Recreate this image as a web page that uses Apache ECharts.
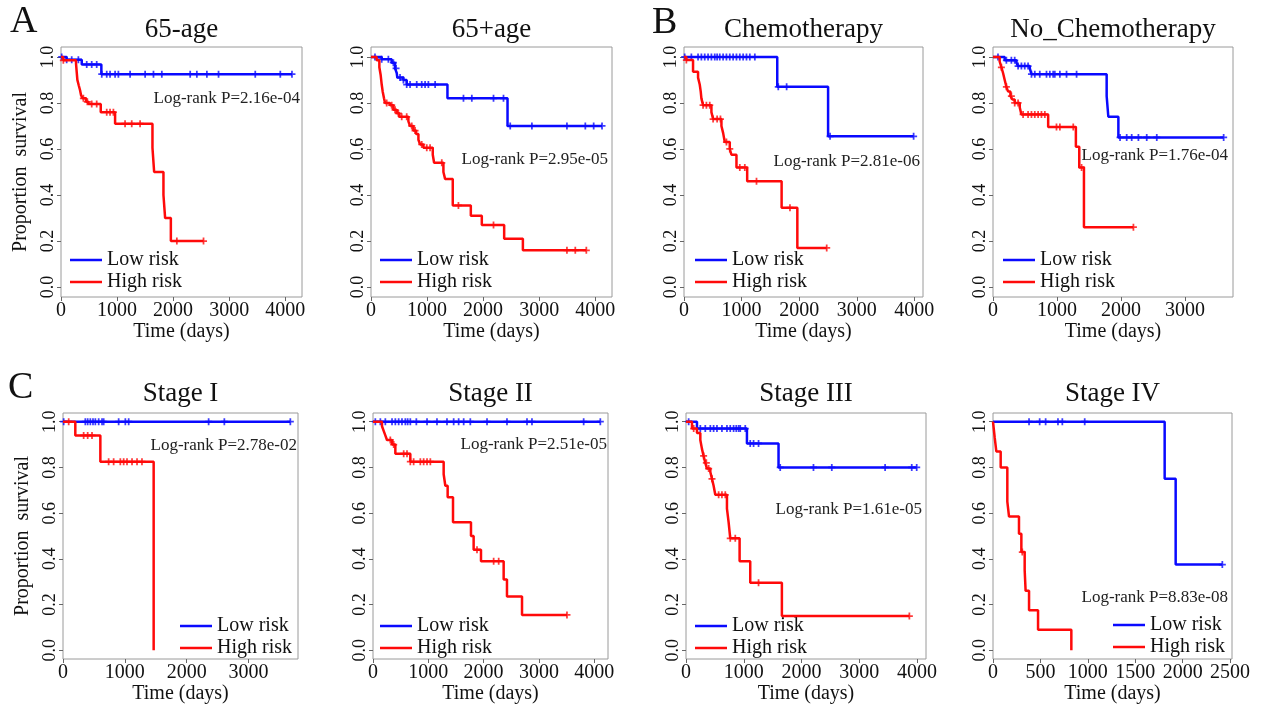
<!DOCTYPE html>
<html>
<head>
<meta charset="utf-8">
<title>KM curves</title>
<script src="https://cdn.jsdelivr.net/npm/echarts@6/dist/echarts.min.js"></script>
<style>
html, body { margin: 0; padding: 0; background: #fff; }
#main { width: 1264px; height: 712px; }
</style>
</head>
<body>
<div id="main"></div>
<script>
// tick labels
var yTicks = [0, 0.2, 0.4, 0.6, 0.8, 1.0];
var xTicks4000 = [0, 1000, 2000, 3000, 4000];
var xTicks3000 = [0, 1000, 2000, 3000];
var xTicks2500 = [0, 500, 1000, 1500, 2000, 2500];

var titles = ['65-age', '65+age', 'Chemotherapy', 'No_Chemotherapy', 'Stage I', 'Stage II', 'Stage III', 'Stage IV'];
var pValues = ['2.16e-04', '2.95e-05', '2.81e-06', '1.76e-04', '2.78e-02', '2.51e-05', '1.61e-05', '8.83e-08'];
var xMax = [4300, 4300, 4150, 3750, 3800, 4250, 4155, 2520];

// 65-age
var a1LowTime = [100, 370, 720];
var a1LowSurv = [0.988, 0.967, 0.925];
var a1LowCens = [12, 101, 191, 310, 459, 548, 637, 727, 816, 875, 965, 1024, 1233, 1501, 1650, 1799, 2305, 2424, 2603, 2811, 3466, 3913, 4121];
var a1HighTime = [40, 268, 280, 292, 316, 340, 357, 387, 447, 488, 709, 965, 1632, 1662, 1828, 1858, 1960];
var a1HighSurv = [0.985, 0.971, 0.935, 0.90, 0.877, 0.855, 0.834, 0.82, 0.805, 0.795, 0.76, 0.71, 0.605, 0.50, 0.40, 0.30, 0.20];
var a1HighCens = [42, 399, 470, 548, 637, 816, 875, 935, 1143, 1262, 1411, 2067, 2543];

// 65+age
var a2LowTime = [191, 369, 429, 459, 470, 578, 637, 1364, 2436];
var a2LowSurv = [0.99, 0.975, 0.95, 0.93, 0.91, 0.90, 0.88, 0.82, 0.70];
var a2LowCens = [71, 191, 310, 399, 447, 518, 578, 637, 697, 816, 905, 965, 1024, 1144, 1650, 1799, 2186, 2364, 2484, 2871, 3496, 3824, 3973, 4122];
var a2HighTime = [101, 149, 173, 191, 208, 232, 250, 339, 399, 459, 506, 667, 697, 756, 804, 846, 876, 935, 1102, 1126, 1292, 1322, 1459, 1781, 1977, 2376, 2710];
var a2HighSurv = [0.985, 0.955, 0.92, 0.88, 0.85, 0.82, 0.80, 0.79, 0.77, 0.755, 0.74, 0.72, 0.70, 0.68, 0.665, 0.64, 0.62, 0.605, 0.575, 0.54, 0.50, 0.47, 0.355, 0.31, 0.27, 0.21, 0.16];
var a2HighCens = [280, 369, 429, 488, 548, 637, 727, 786, 905, 995, 1054, 1263, 1560, 2186, 3496, 3645, 3842];

// Chemotherapy
var b1LowTime = [1619, 2502];
var b1LowSurv = [0.87, 0.655];
var b1LowCens = [12, 128, 244, 302, 360, 418, 476, 534, 575, 621, 679, 737, 795, 853, 911, 969, 1027, 1085, 1143, 1230, 1637, 1782, 2536, 3987];
var b1HighTime = [40, 157, 244, 273, 290, 302, 331, 476, 505, 650, 679, 708, 795, 824, 911, 1097, 1695, 1968];
var b1HighSurv = [0.986, 0.935, 0.91, 0.88, 0.85, 0.82, 0.79, 0.76, 0.73, 0.70, 0.67, 0.63, 0.60, 0.575, 0.52, 0.46, 0.345, 0.17];
var b1HighCens = [41, 331, 389, 447, 505, 575, 633, 737, 795, 969, 1056, 1259, 1840, 2478];

// No_Chemotherapy
var b2LowTime = [183, 366, 392, 575, 601, 1776, 1802, 1959];
var b2LowSurv = [0.985, 0.975, 0.96, 0.95, 0.925, 0.83, 0.74, 0.65];
var b2LowCens = [78, 209, 287, 339, 392, 444, 496, 548, 601, 653, 731, 836, 888, 940, 966, 1045, 1149, 1306, 1985, 2089, 2167, 2272, 2402, 2559, 3604];
var b2HighTime = [104, 131, 157, 183, 209, 235, 272, 303, 339, 418, 444, 862, 1295, 1348, 1421];
var b2HighSurv = [0.98, 0.955, 0.93, 0.90, 0.87, 0.85, 0.83, 0.815, 0.80, 0.78, 0.75, 0.695, 0.61, 0.52, 0.26];
var b2HighCens = [131, 209, 287, 339, 392, 470, 548, 601, 653, 705, 757, 810, 992, 1045, 1254, 1384, 2194];

// Stage I
var c1LowTime = [];
var c1LowSurv = [];
var c1LowCens = [11, 361, 399, 442, 485, 523, 577, 631, 658, 900, 1008, 1062, 2355, 2609, 3676];
var c1HighTime = [199, 604, 1466];
var c1HighSurv = [0.94, 0.825, 0];
var c1HighCens = [92, 334, 399, 469, 738, 819, 927, 981, 1035, 1116, 1197, 1277];

// Stage II
var c2LowTime = [];
var c2LowSurv = [];
var c2LowCens = [42, 133, 223, 344, 404, 464, 524, 585, 627, 675, 784, 977, 1157, 1338, 1459, 1549, 1640, 1760, 2062, 2423, 2785, 2875, 3810, 4111];
var c2HighTime = [163, 193, 223, 253, 344, 404, 675, 1278, 1308, 1350, 1447, 1772, 1820, 1953, 2363, 2423, 2695];
var c2HighSurv = [0.98, 0.96, 0.94, 0.92, 0.90, 0.86, 0.825, 0.77, 0.72, 0.67, 0.56, 0.50, 0.44, 0.39, 0.31, 0.235, 0.155];
var c2HighCens = [313, 374, 555, 615, 675, 735, 856, 916, 977, 1037, 1881, 2182, 2273, 3508];

// Stage III
var c3LowTime = [190, 1055, 1602];
var c3LowSurv = [0.97, 0.905, 0.80];
var c3LowCens = [46, 248, 334, 421, 478, 536, 622, 709, 766, 824, 870, 911, 939, 1026, 1112, 1170, 1256, 1631, 2207, 2524, 3447, 3908, 3994];
var c3HighTime = [104, 190, 248, 277, 305, 334, 363, 421, 450, 478, 507, 709, 738, 766, 928, 1112, 1660];
var c3HighSurv = [0.97, 0.95, 0.92, 0.88, 0.85, 0.82, 0.795, 0.78, 0.75, 0.72, 0.68, 0.62, 0.56, 0.49, 0.39, 0.295, 0.15];
var c3HighCens = [133, 305, 352, 392, 450, 565, 622, 680, 766, 853, 1256, 3867];

// Stage IV
var c4LowTime = [1810, 1926];
var c4LowSurv = [0.75, 0.375];
var c4LowCens = [380, 492, 555, 685, 731, 967, 2418];
var c4HighTime = [18, 35, 81, 151, 169, 274, 299, 334, 344, 380, 475, 826];
var c4HighSurv = [0.93, 0.87, 0.80, 0.65, 0.585, 0.51, 0.43, 0.35, 0.26, 0.175, 0.09, 0];
var c4HighCens = [309];

var lowColor = '#0a0aff';
var highColor = '#ff0a0a';
var serif = 'Liberation Serif';

var curves = [
    [a1LowTime, a1LowSurv, a1LowCens, a1HighTime, a1HighSurv, a1HighCens],
    [a2LowTime, a2LowSurv, a2LowCens, a2HighTime, a2HighSurv, a2HighCens],
    [b1LowTime, b1LowSurv, b1LowCens, b1HighTime, b1HighSurv, b1HighCens],
    [b2LowTime, b2LowSurv, b2LowCens, b2HighTime, b2HighSurv, b2HighCens],
    [c1LowTime, c1LowSurv, c1LowCens, c1HighTime, c1HighSurv, c1HighCens],
    [c2LowTime, c2LowSurv, c2LowCens, c2HighTime, c2HighSurv, c2HighCens],
    [c3LowTime, c3LowSurv, c3LowCens, c3HighTime, c3HighSurv, c3HighCens],
    [c4LowTime, c4LowSurv, c4LowCens, c4HighTime, c4HighSurv, c4HighCens]
];
var xTickSets = [xTicks4000, xTicks4000, xTicks4000, xTicks3000, xTicks3000, xTicks4000, xTicks4000, xTicks2500];

// layout of the 8 plot boxes
var boxes = [
    {left: 61, top: 47, width: 241, height: 250},
    {left: 371, top: 47, width: 241, height: 250},
    {left: 684, top: 47, width: 239, height: 250},
    {left: 993, top: 47, width: 240, height: 250},
    {left: 63, top: 413, width: 235, height: 246},
    {left: 373, top: 413, width: 235, height: 246},
    {left: 686, top: 413, width: 240, height: 246},
    {left: 993, top: 413, width: 239, height: 246}
];
var legendPos = [[70, 250], [380, 250], [695, 250], [1003, 250], [180, 616], [380, 616], [695, 616], [1113, 615]];
var pPos = [[300, 99], [608, 160], [920, 162], [1228, 156], [297, 446], [607, 445], [922, 510], [1228, 598]];

function kmLine(times, surv, cens) {
    var pts = [[0, 1]];
    var last = 0, lastS = 1;
    for (var i = 0; i < times.length; i++) {
        pts.push([times[i], surv[i]]);
        last = times[i];
        lastS = surv[i];
    }
    var end = cens.length ? Math.max.apply(null, cens) : last;
    if (end > last) pts.push([end, lastS]);
    return pts;
}

function survAt(times, surv, t) {
    var s = 1;
    for (var i = 0; i < times.length; i++) {
        if (times[i] <= t) s = surv[i];
    }
    return s;
}

function censPoints(times, surv, cens) {
    return cens.map(function (t) { return [t, survAt(times, surv, t)]; });
}

var plusSymbol = 'path://M-1,-4H1V-1H4V1H1V4H-1V1H-4V-1H-1Z';

var grids = [], xAxes = [], yAxes = [], series = [], titleList = [], legends = [], graphics = [];

for (var i = 0; i < 8; i++) {
    var b = boxes[i];
    var row2 = i >= 4;
    grids.push({
        left: b.left, top: b.top, width: b.width, height: b.height,
        show: true, borderColor: '#9a9a9a', borderWidth: 1, backgroundColor: 'transparent'
    });
    xAxes.push({
        gridIndex: i, type: 'value', min: 0, max: xMax[i],
        name: 'Time (days)', nameLocation: 'middle', nameGap: 25,
        nameTextStyle: {fontFamily: serif, fontSize: 20, color: '#111'},
        axisLine: {show: false, onZero: false},
        axisTick: {show: true, length: 4, customValues: xTickSets[i], lineStyle: {color: '#666'}},
        axisLabel: {
            customValues: xTickSets[i], fontFamily: serif, fontSize: 20, color: '#111', margin: 4, hideOverlap: false,
            formatter: function (v) { return String(v); }
        },
        splitLine: {show: false}
    });
    yAxes.push({
        gridIndex: i, type: 'value',
        min: row2 ? -0.038 : -0.043, max: row2 ? 1.038 : 1.043,
        name: (i === 0 || i === 4) ? 'Proportion  survival' : '',
        nameLocation: 'middle', nameGap: 30,
        nameTextStyle: {fontFamily: serif, fontSize: 20, color: '#111'},
        axisLine: {show: false},
        axisTick: {show: true, length: 4, customValues: yTicks, lineStyle: {color: '#666'}},
        axisLabel: {
            customValues: yTicks, rotate: 90, margin: 4,
            fontFamily: serif, fontSize: 18, color: '#111',
            formatter: function (v) { return v.toFixed(1); }
        },
        splitLine: {show: false}
    });

    var c = curves[i];
    series.push({
        name: 'Low risk', type: 'line', step: 'end', xAxisIndex: i, yAxisIndex: i,
        data: kmLine(c[0], c[1], c[2]), symbol: 'none', color: lowColor,
        lineStyle: {width: 2.5, color: lowColor}, z: 3
    });
    series.push({
        name: 'High risk', type: 'line', step: 'end', xAxisIndex: i, yAxisIndex: i,
        data: kmLine(c[3], c[4], c[5]), symbol: 'none', color: highColor,
        lineStyle: {width: 2.5, color: highColor}, z: 4
    });
    series.push({
        name: 'lowCens', type: 'scatter', xAxisIndex: i, yAxisIndex: i,
        data: censPoints(c[0], c[1], c[2]), symbol: plusSymbol, symbolSize: 7,
        itemStyle: {color: lowColor}, z: 3
    });
    series.push({
        name: 'highCens', type: 'scatter', xAxisIndex: i, yAxisIndex: i,
        data: censPoints(c[3], c[4], c[5]), symbol: plusSymbol, symbolSize: 7,
        itemStyle: {color: highColor}, z: 4
    });

    titleList.push({
        text: titles[i], left: b.left + b.width / 2, top: row2 ? 380 : 16,
        textAlign: 'center', padding: 0,
        textStyle: {fontFamily: serif, fontSize: 27, fontWeight: 'normal', color: '#111'}
    });
    legends.push({
        data: ['Low risk', 'High risk'], orient: 'vertical',
        left: legendPos[i][0], top: legendPos[i][1], padding: 0, itemGap: 2,
        icon: 'rect', itemWidth: 32, itemHeight: 2.5, selectedMode: false,
        textStyle: {fontFamily: serif, fontSize: 20, color: '#111'}
    });
    graphics.push({
        type: 'text', x: pPos[i][0], y: pPos[i][1], z: 10,
        style: {
            text: 'Log-rank P=' + pValues[i], fill: '#222',
            font: '17px "Liberation Serif"', textAlign: 'right', textVerticalAlign: 'middle'
        }
    });
}

// panel letters
var letters = [['A', 10, 22], ['B', 652, 23], ['C', 8, 388]];
letters.forEach(function (l) {
    graphics.push({
        type: 'text', x: l[1], y: l[2],
        style: {text: l[0], fill: '#111', font: '38px "Liberation Serif"', textVerticalAlign: 'middle'}
    });
});

var myChart = echarts.init(document.getElementById('main'));
myChart.setOption({
    backgroundColor: '#ffffff',
    animation: false,
    title: titleList,
    legend: legends,
    grid: grids,
    xAxis: xAxes,
    yAxis: yAxes,
    series: series,
    graphic: graphics
});
</script>
</body>
</html>
